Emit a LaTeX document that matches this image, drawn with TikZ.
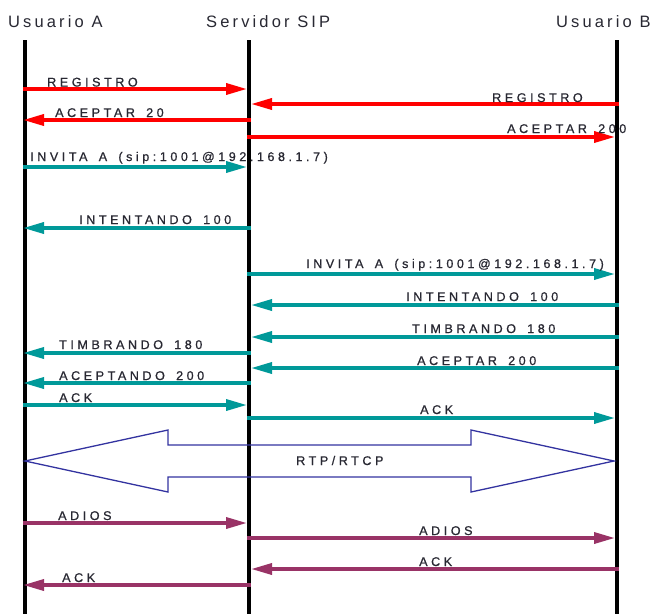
\documentclass[tikz,border=0pt]{standalone}
\usepackage{fontspec}
\setmainfont{Liberation Sans}
\newfontfamily\lblfont[LetterSpace=28,FakeBold=0.8,WordSpace=1.6]{Liberation Sans}
\newfontfamily\hdrfont[LetterSpace=19]{Liberation Sans}
\usetikzlibrary{arrows.meta}
\definecolor{sipred}{RGB}{255,0,0}
\definecolor{sipteal}{RGB}{0,153,153}
\definecolor{sippurple}{RGB}{153,51,102}
\definecolor{sipblue}{RGB}{51,51,160}
\definecolor{siptext}{RGB}{40,40,50}
\begin{document}
\begin{tikzpicture}[x=1pt,y=-1pt,
  lifeline/.style={line width=4pt,black},
  msg/.style={line width=3.5pt,-{Triangle[length=21pt,width=11pt]}},
  redmsg/.style={msg,sipred},
  tealmsg/.style={msg,sipteal},
  purplemsg/.style={msg,sippurple},
  lbl/.style={anchor=base west,inner sep=0pt,text=siptext,font=\lblfont\fontsize{12.6}{14}\selectfont},
  hdr/.style={anchor=base west,inner sep=0pt,text=siptext,font=\hdrfont\fontsize{16.5}{19}\selectfont}]
\useasboundingbox (0,0) rectangle (653,614);
% headers
\node[hdr] (hA) at (8,27) {Usuario A};
\node[hdr] (hS) at (206,27) {Servidor SIP};
\node[hdr] (hB) at (556,27) {Usuario B};
% lifelines
\coordinate (At) at (25,40); \coordinate (Ab) at (25,614);
\coordinate (St) at (249,40); \coordinate (Sb) at (249,614);
\coordinate (Bt) at (617,40); \coordinate (Bb) at (617,614);
\draw[lifeline] (At) -- (Ab);
\draw[lifeline] (St) -- (Sb);
\draw[lifeline] (Bt) -- (Bb);
% endpoints
\foreach \n/\y in {1/89,2/104,3/120,4/137,5/167,6/228,7/274,8/305,9/337,10/353,11/368,12/383,13/405,14/418,15/523,16/538,17/569,18/585}{
  \coordinate (a\n) at (23,\y);
  \coordinate (sl\n) at (251,\y);
  \coordinate (sr\n) at (247,\y);
  \coordinate (b\n) at (619,\y);
  \coordinate (bt\n) at (615,\y);
}
% red messages
\draw[redmsg] (a1) -- (sr1);
\node[lbl] (l1) at (47,86.5) {REGISTRO};
\draw[redmsg] (b2) -- (sl2);
\node[lbl] (l2) at (492,102) {REGISTRO};
\draw[redmsg] (sl3) -- (a3);
\node[lbl] (l3) at (55,117) {ACEPTAR 20};
\draw[redmsg] (sr4) -- (bt4);
\node[lbl] (l4) at (507,133) {ACEPTAR 200};
% teal messages
\draw[tealmsg] (a5) -- (sr5);
\node[lbl] (l5) at (30,161) {INVITA A (sip:1001@192.168.1.7)};
\draw[tealmsg] (sl6) -- (a6);
\node[lbl] (l6) at (79,224) {INTENTANDO 100};
\draw[tealmsg] (sr7) -- (bt7);
\node[lbl] (l7) at (306,268) {INVITA A (sip:1001@192.168.1.7)};
\draw[tealmsg] (b8) -- (sl8);
\node[lbl] (l8) at (406,301) {INTENTANDO 100};
\draw[tealmsg] (b9) -- (sl9);
\node[lbl] (l9) at (412,333) {TIMBRANDO 180};
\draw[tealmsg] (sl10) -- (a10);
\node[lbl] (l10) at (59,349) {TIMBRANDO 180};
\draw[tealmsg] (b11) -- (sl11);
\node[lbl] (l11) at (417,365) {ACEPTAR 200};
\draw[tealmsg] (sl12) -- (a12);
\node[lbl] (l12) at (59,380) {ACEPTANDO 200};
\draw[tealmsg] (a13) -- (sr13);
\node[lbl] (l13) at (59,402) {ACK};
\draw[tealmsg] (sr14) -- (bt14);
\node[lbl] (l14) at (420,414) {ACK};
% RTP/RTCP double arrow
\draw[sipblue,line width=1.3pt,line join=miter]
  (25,461) -- (168,430) -- (168,445) -- (471,445) -- (471,430) -- (614,461)
  -- (471,492) -- (471,477) -- (168,477) -- (168,492) -- cycle;
\node[lbl] (rtp) at (296,465) {RTP/RTCP};
% purple messages
\draw[purplemsg] (a15) -- (sr15);
\node[lbl] (l15) at (58,520) {ADIOS};
\draw[purplemsg] (sr16) -- (bt16);
\node[lbl] (l16) at (419,535) {ADIOS};
\draw[purplemsg] (b17) -- (sl17);
\node[lbl] (l17) at (419,566) {ACK};
\draw[purplemsg] (sl18) -- (a18);
\node[lbl] (l18) at (62,582) {ACK};
\end{tikzpicture}
\end{document}
